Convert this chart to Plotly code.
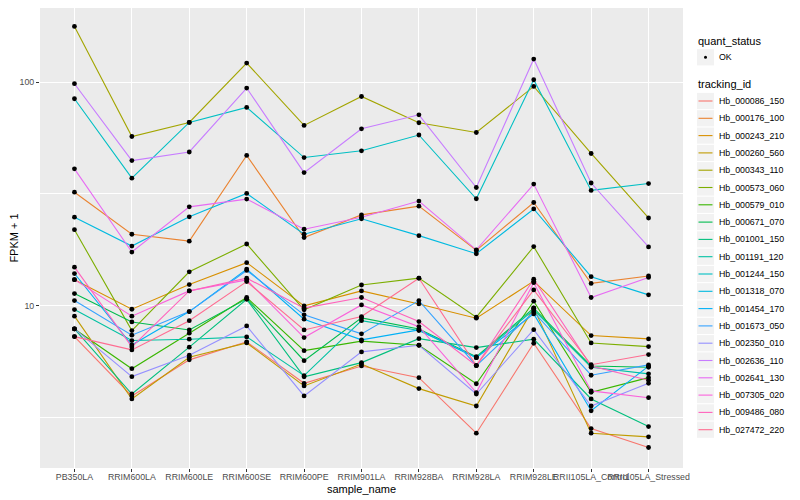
import plotly.graph_objects as go

samples = ["PB350LA", "RRIM600LA", "RRIM600LE", "RRIM600SE", "RRIM600PE",
           "RRIM901LA", "RRIM928BA", "RRIM928LA", "RRIM928LE",
           "RRII105LA_Control", "RRII105LA_Stressed"]

tracking_ids = ["Hb_000086_150", "Hb_000176_100", "Hb_000243_210", "Hb_000260_560",
                "Hb_000343_110", "Hb_000573_060", "Hb_000579_010", "Hb_000671_070",
                "Hb_001001_150", "Hb_001191_120", "Hb_001244_150", "Hb_001318_070",
                "Hb_001454_170", "Hb_001673_050", "Hb_002350_010", "Hb_002636_110",
                "Hb_002641_130", "Hb_007305_020", "Hb_009486_080", "Hb_027472_220"]

quant_status = ["OK"]

# FPKM + 1 values per tracking_id, in sample order
hb_000086_150 = [7.29, 3.96, 5.74, 6.91, 4.51, 5.39, 4.78, 2.70, 6.81, 2.83, 2.33]
hb_000176_100 = [32.2, 20.9, 19.46, 47.0, 20.2, 25.5, 27.9, 17.7, 28.96, 12.6, 13.6]
hb_000243_210 = [13.1, 9.66, 12.45, 15.6, 10.0, 11.67, 10.2, 8.81, 12.9, 7.37, 7.12]
hb_000260_560 = [9.0, 3.84, 5.90, 6.83, 4.39, 5.50, 4.27, 3.57, 9.8, 2.70, 2.60]
hb_000343_110 = [177.3, 57.1, 66.0, 121.6, 64.0, 86.2, 65.8, 59.5, 95.6, 47.96, 24.7]
hb_000573_060 = [21.9, 7.76, 14.2, 18.9, 9.6, 12.4, 13.3, 8.9, 18.4, 6.83, 6.58]
hb_000579_010 = [7.89, 5.24, 7.55, 10.9, 6.31, 6.96, 6.67, 4.49, 10.5, 4.11, 4.78]
hb_000671_070 = [11.35, 8.48, 7.81, 10.75, 5.69, 8.84, 7.89, 5.93, 9.77, 5.39, 5.32]
hb_001001_150 = [7.89, 4.04, 6.54, 10.7, 4.82, 5.58, 7.14, 6.51, 7.10, 3.84, 2.89]
hb_001191_120 = [9.63, 7.0, 7.10, 7.27, 4.88, 8.59, 7.76, 5.87, 9.6, 5.32, 4.97]
hb_001244_150 = [84.2, 37.2, 66.0, 77.0, 46.0, 49.3, 58.0, 30.1, 102.4, 32.8, 35.2]
hb_001318_070 = [24.9, 18.5, 25.0, 31.8, 20.9, 24.5, 20.6, 17.1, 27.1, 13.5, 11.2]
hb_001454_170 = [13.95, 6.69, 9.43, 14.6, 8.72, 7.05, 7.81, 5.87, 9.21, 3.40, 5.38]
hb_001673_050 = [10.56, 7.40, 9.43, 14.4, 9.12, 7.50, 10.56, 5.41, 9.40, 4.90, 5.45]
hb_002350_010 = [7.89, 4.83, 6.02, 8.14, 3.96, 6.23, 6.67, 4.04, 7.83, 3.57, 4.51]
hb_002636_110 = [98.3, 44.6, 48.7, 94.0, 39.4, 61.8, 71.4, 33.8, 126.7, 35.4, 18.35]
hb_002641_130 = [40.96, 17.4, 27.7, 30.0, 22.0, 24.9, 29.4, 17.8, 35.0, 10.9, 13.4]
hb_007305_020 = [13.1, 9.0, 11.67, 13.07, 7.22, 10.1, 8.08, 4.10, 12.7, 4.17, 3.89]
hb_009486_080 = [14.9, 6.56, 11.67, 13.3, 9.77, 10.9, 8.51, 5.41, 13.16, 5.39, 4.65]
hb_027472_220 = [7.29, 6.36, 8.59, 12.84, 7.81, 8.96, 13.3, 5.41, 11.79, 5.46, 6.06]

series_values = [hb_000086_150, hb_000176_100, hb_000243_210, hb_000260_560,
                 hb_000343_110, hb_000573_060, hb_000579_010, hb_000671_070,
                 hb_001001_150, hb_001191_120, hb_001244_150, hb_001318_070,
                 hb_001454_170, hb_001673_050, hb_002350_010, hb_002636_110,
                 hb_002641_130, hb_007305_020, hb_009486_080, hb_027472_220]

colors = ["#F8766D", "#EA8331", "#D89000", "#C09B00", "#A3A500", "#7CAE00",
          "#39B600", "#00BB4E", "#00BF7D", "#00C1A3", "#00BFC4", "#00BAE0",
          "#00B0F6", "#35A2FF", "#9590FF", "#C77CFF", "#E76BF3", "#FA62DB",
          "#FF62BC", "#FF6C91"]

FONT = "Liberation Sans, Arial, sans-serif"

fig = go.Figure()

for name, vals, col in zip(tracking_ids, series_values, colors):
    fig.add_trace(go.Scatter(
        x=samples, y=vals, mode="lines", name=name,
        line=dict(color=col, width=1.1), showlegend=False, hoverinfo="skip"))

all_x, all_y = [], []
for vals in series_values:
    all_x += samples
    all_y += vals
fig.add_trace(go.Scatter(
    x=all_x, y=all_y, mode="markers", name=quant_status[0],
    marker=dict(color="black", size=4.8), showlegend=False))

# ---- legend drawn in paper space (ggplot style keys) ----
# page px -> paper coords (page has an 8px body margin)
def px(xp):
    return (xp - 40) / 643.0


def py(yp):
    return (468 - yp) / 460.0


shapes = []
annotations = []


def key_box(cy):
    shapes.append(dict(type="rect", xref="paper", yref="paper",
                       x0=px(697), x1=px(714), y0=py(cy + 8.1), y1=py(cy - 8.1),
                       fillcolor="#F2F2F2", line=dict(width=0), layer="above"))


def label(text, x, y, size):
    annotations.append(dict(text=text, xref="paper", yref="paper", x=px(x), y=py(y),
                            xanchor="left", yanchor="middle", showarrow=False,
                            font=dict(size=size, color="black", family=FONT)))


label("quant_status", 696, 40.7, 11)
key_box(57.3)
shapes.append(dict(type="circle", xref="paper", yref="paper",
                   x0=px(704), x1=px(707), y0=py(58.8), y1=py(55.8),
                   fillcolor="black", line=dict(width=0), layer="above"))
label(quant_status[0], 716.5, 57.3, 8.8)

label("tracking_id", 696, 84.3, 11)
for i, (name, col) in enumerate(zip(tracking_ids, colors)):
    cy = 101.0 + 17.3 * i
    key_box(cy)
    shapes.append(dict(type="line", xref="paper", yref="paper",
                       x0=px(698.5), x1=px(712.5), y0=py(cy), y1=py(cy),
                       line=dict(color=col, width=1.1), layer="above"))
    label(name, 716.5, cy, 8.8)

fig.update_layout(
    width=792, height=492,
    margin=dict(l=32, r=117, t=0, b=32),
    paper_bgcolor="white", plot_bgcolor="#EBEBEB",
    font=dict(family=FONT, color="black"),
    xaxis=dict(
        type="category", range=[-0.6, 10.6], showgrid=True,
        gridcolor="white", gridwidth=1.1, zeroline=False, showline=False,
        ticks="outside", ticklen=3, tickcolor="#333333", tickangle=0,
        ticklabelstandoff=-3,
        tickfont=dict(size=8.8, color="#4D4D4D"),
        title=dict(text="sample_name", font=dict(size=11), standoff=4),
        automargin=False),
    yaxis=dict(
        type="log", range=[0.2758, 2.3308], showgrid=True,
        gridcolor="white", gridwidth=1.1, zeroline=False, showline=False,
        tickvals=[10, 100], ticktext=["10", "100"],
        ticks="outside", ticklen=3, tickcolor="#333333",
        tickfont=dict(size=8.8, color="#4D4D4D"),
        minor=dict(tickvals=[10 ** 0.5, 10 ** 1.5], showgrid=True,
                   gridcolor="white", gridwidth=0.5, ticks=""),
        title=dict(text="FPKM + 1", font=dict(size=11), standoff=6),
        automargin=False),
    showlegend=False,
    shapes=shapes,
    annotations=annotations,
)

fig.write_html("out.html")
